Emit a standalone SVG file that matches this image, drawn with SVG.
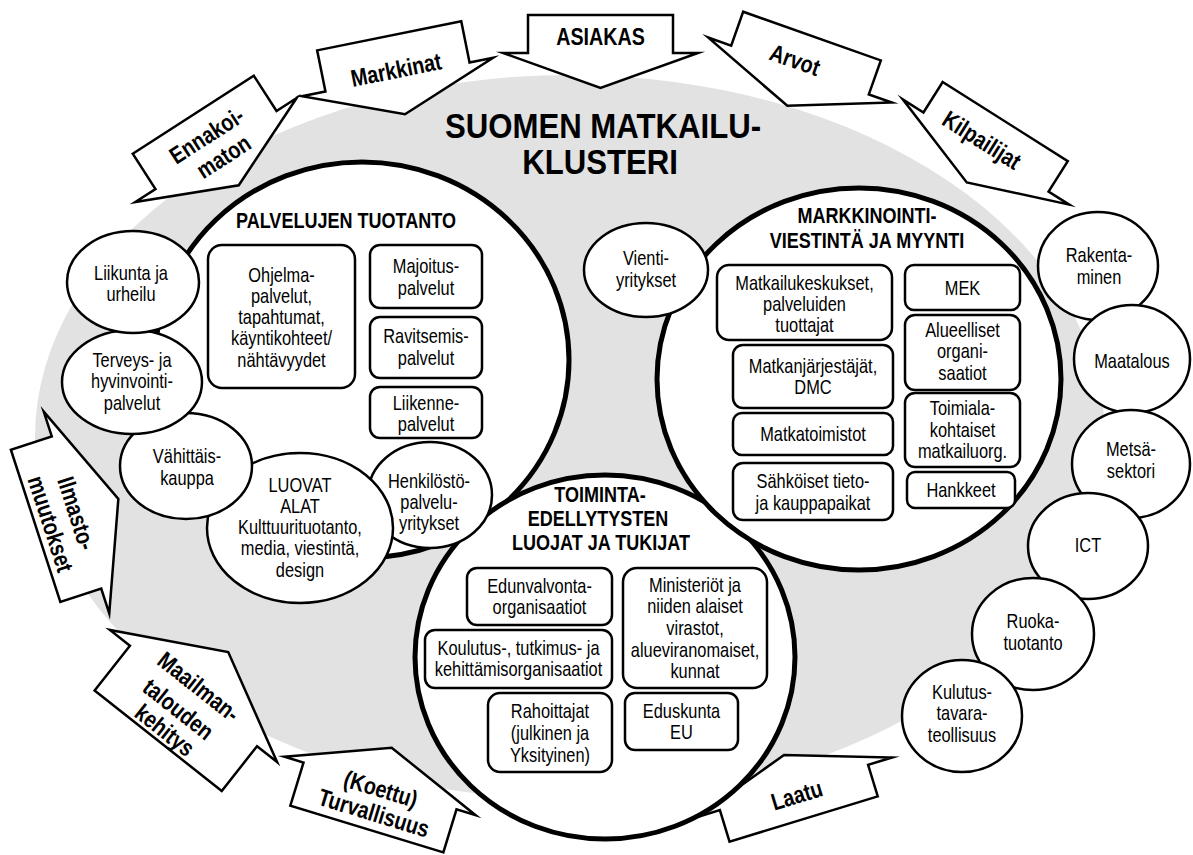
<svg xmlns="http://www.w3.org/2000/svg" width="1193" height="855" viewBox="0 0 1193 855">
<style>
.t{font-family:"Liberation Sans",Arial,sans-serif;font-size:20px;text-anchor:middle;fill:#000}
.h{font-weight:bold;font-size:22px}
.a{font-weight:bold;font-size:24px}
.ti{font-weight:bold;font-size:35px}
.big{fill:#fff;stroke:#000;stroke-width:5}
.sm{fill:#fff;stroke:#000;stroke-width:2.5}
.box{fill:#fff;stroke:#000;stroke-width:2.5}
.arr{fill:#fff;stroke:#000;stroke-width:2.5;stroke-linejoin:miter;stroke-miterlimit:12}
</style>
<rect width="1193" height="855" fill="#fff"/>
<ellipse id="cluster-bg" cx="570" cy="437" rx="535" ry="362" fill="#e2e2e2"/>

<g id="arrows">
<g id="arrow-asiakas" transform="translate(600.5,53)">
<polygon class="arr" points="-72.5,-38 72.5,-38 72.5,0 97.5,0 0,35 -97.5,0 -72.5,0"/>
<g transform="scale(0.82,1)"><text class="t a" x="0" y="-8">ASIAKAS</text></g></g>
<g id="arrow-markkinat" transform="translate(397.5,77) rotate(-11.4)">
<polygon class="arr" points="-73.5,-42 73.5,-42 73.5,0 97.5,0 0,38 -97.5,0 -73.5,0"/>
<g transform="scale(0.82,1)"><text class="t a" x="0" y="1">Markkinat</text></g></g>
<g id="arrow-ennakoimaton" transform="translate(216,150) rotate(-32.8)">
<polygon class="arr" points="-72,-42 72,-42 72,0 96,0 0,42 -96,0 -72,0"/>
<g transform="scale(0.82,1)"><text class="t a" x="0" y="-9">Ennakoi-</text>
<text class="t a" x="3.5" y="18">maton</text></g></g>
<g id="arrow-arvot" transform="translate(800,70) rotate(19.5)">
<polygon class="arr" points="-73,-36 73,-36 73,0 97.5,0 0,38 -97.5,0 -73,0"/>
<g transform="scale(0.82,1)"><text class="t a" x="-10" y="0.5">Arvot</text></g></g>
<g id="arrow-kilpailijat" transform="translate(986,152) rotate(32.3)">
<polygon class="arr" points="-74,-36 74,-36 74,0 98.5,0 0,36 -98.5,0 -74,0"/>
<g transform="scale(0.82,1)"><text class="t a" x="-12" y="0.5">Kilpailijat</text></g></g>
<g id="arrow-ilmasto" transform="translate(76.5,512.5) rotate(-108)">
<polygon class="arr" points="-80,-43 80,-43 80,0 106,0 0,44 -106,0 -80,0"/>
<g transform="rotate(180) scale(0.82,1)">
<text class="t a" x="1" y="8.5">Ilmasto-</text>
<text class="t a" x="3.5" y="36.5">muutokset</text></g></g>
<g id="arrow-maailmantalous" transform="translate(193.5,696) rotate(-141.7)">
<polygon class="arr" points="-81,-57 81,-57 81,0 106.5,0 0,56 -106.5,0 -81,0"/>
<g transform="rotate(180) scale(0.82,1)">
<text class="t a" x="-2" y="-2.2">Maailman-</text>
<text class="t a" x="-4.5" y="28">talouden</text>
<text class="t a" x="-1.5" y="53">kehitys</text></g></g>
<g id="arrow-turvallisuus" transform="translate(380,786) rotate(-163)">
<polygon class="arr" points="-80,-45 80,-45 80,0 100,0 0,40 -100,0 -80,0"/>
<g transform="rotate(180) scale(0.82,1)">
<text class="t a" x="2" y="11">(Koettu)</text>
<text class="t a" x="2.5" y="36">Turvallisuus</text></g></g>
<g id="arrow-laatu" transform="translate(794,787.5) rotate(163)">
<polygon class="arr" points="-77.5,-33 77.5,-33 77.5,0 102.5,0 0,34 -102.5,0 -77.5,0"/>
<g transform="rotate(180) scale(0.82,1)">
<text class="t a" x="0.5" y="16.5">Laatu</text></g></g>
</g>

<g id="title" transform="translate(601.5,0) scale(0.89,1)">
<text class="t ti" x="1.7" y="138">SUOMEN MATKAILU-</text>
<text class="t ti" x="-1.7" y="174">KLUSTERI</text>
</g>

<g id="palvelujen-tuotanto">
<ellipse class="big" cx="362" cy="360" rx="207" ry="198"/>
</g>
<g id="toimintaedellytykset">
<ellipse class="big" cx="605" cy="657" rx="190" ry="182"/>
</g>
<g id="markkinointi">
<ellipse class="big" cx="859" cy="379" rx="202" ry="191"/>
</g>

<g id="henkilosto"><ellipse class="sm" cx="430" cy="495" rx="62" ry="53"/>
<g transform="translate(429,0) scale(0.82,1)"><text class="t" x="0" y="488">Henkilöstö-</text><text class="t" x="0" y="509">palvelu-</text><text class="t" x="0" y="530">yritykset</text></g></g>
<g id="luovat-alat"><ellipse class="sm" cx="300" cy="528" rx="93" ry="75"/>
<g transform="translate(300,0) scale(0.82,1)"><text class="t" x="0" y="492">LUOVAT</text><text class="t" x="0" y="513">ALAT</text><text class="t" x="0" y="534">Kulttuurituotanto,</text><text class="t" x="0" y="555">media, viestintä,</text><text class="t" x="0" y="577">design</text></g></g>
<g id="vahittaiskauppa"><ellipse class="sm" cx="186" cy="466" rx="66" ry="53"/>
<g transform="translate(187,0) scale(0.82,1)"><text class="t" x="0" y="463">Vähittäis-</text><text class="t" x="0" y="485">kauppa</text></g></g>
<g id="terveys"><ellipse class="sm" cx="132" cy="382" rx="70" ry="52"/>
<g transform="translate(132,0) scale(0.82,1)"><text class="t" x="0" y="367">Terveys- ja</text><text class="t" x="0" y="388">hyvinvointi-</text><text class="t" x="0" y="410">palvelut</text></g></g>
<g id="liikunta"><ellipse class="sm" cx="133" cy="282" rx="66" ry="51"/>
<g transform="translate(131,0) scale(0.82,1)"><text class="t" x="0" y="280">Liikunta ja</text><text class="t" x="0" y="301">urheilu</text></g></g>
<g id="vientiyritykset"><ellipse class="sm" cx="646" cy="270" rx="62" ry="47"/>
<g transform="translate(646,0) scale(0.82,1)"><text class="t" x="0" y="265">Vienti-</text><text class="t" x="0" y="287">yritykset</text></g></g>

<g id="rakentaminen"><ellipse class="sm" cx="1098" cy="266" rx="60" ry="54"/>
<g transform="translate(1099,0) scale(0.82,1)"><text class="t" x="0" y="262">Rakenta-</text><text class="t" x="0" y="284">minen</text></g></g>
<g id="maatalous"><ellipse class="sm" cx="1132" cy="359" rx="58" ry="54"/>
<g transform="translate(1132,0) scale(0.82,1)"><text class="t" x="0" y="368">Maatalous</text></g></g>
<g id="metsasektori"><ellipse class="sm" cx="1131" cy="464" rx="59" ry="54"/>
<g transform="translate(1131,0) scale(0.82,1)"><text class="t" x="0" y="456">Metsä-</text><text class="t" x="0" y="478">sektori</text></g></g>
<g id="ict"><ellipse class="sm" cx="1088" cy="546" rx="60" ry="53"/>
<g transform="translate(1088,0) scale(0.82,1)"><text class="t" x="0" y="552">ICT</text></g></g>
<g id="ruokatuotanto"><ellipse class="sm" cx="1033" cy="634" rx="61" ry="56"/>
<g transform="translate(1033,0) scale(0.82,1)"><text class="t" x="0" y="628">Ruoka-</text><text class="t" x="0" y="650">tuotanto</text></g></g>
<g id="kulutustavara"><ellipse class="sm" cx="962" cy="716" rx="60" ry="56"/>
<g transform="translate(962,0) scale(0.82,1)"><text class="t" x="0" y="699">Kulutus-</text><text class="t" x="0" y="720">tavara-</text><text class="t" x="0" y="742">teollisuus</text></g></g>

<g id="palvelujen-heading" transform="translate(346,0) scale(0.82,1)"><text class="t h" x="0" y="228">PALVELUJEN TUOTANTO</text></g>
<g id="ohjelmapalvelut"><rect class="box" x="208" y="245" width="147" height="143" rx="14"/>
<g transform="translate(281.5,0) scale(0.82,1)"><text class="t" x="0" y="282">Ohjelma-</text><text class="t" x="0" y="303">palvelut,</text><text class="t" x="0" y="324">tapahtumat,</text><text class="t" x="0" y="345">käyntikohteet/</text><text class="t" x="0" y="367">nähtävyydet</text></g></g>
<g id="majoitus"><rect class="box" x="370" y="245" width="112" height="63" rx="10"/>
<g transform="translate(426,0) scale(0.82,1)"><text class="t" x="0" y="273">Majoitus-</text><text class="t" x="0" y="295">palvelut</text></g></g>
<g id="ravitsemis"><rect class="box" x="370" y="317" width="112" height="61" rx="10"/>
<g transform="translate(426,0) scale(0.82,1)"><text class="t" x="0" y="343">Ravitsemis-</text><text class="t" x="0" y="365">palvelut</text></g></g>
<g id="liikenne"><rect class="box" x="370" y="387" width="112" height="51" rx="10"/>
<g transform="translate(426,0) scale(0.82,1)"><text class="t" x="0" y="410">Liikenne-</text><text class="t" x="0" y="431">palvelut</text></g></g>

<g id="markkinointi-heading" transform="translate(867,0) scale(0.82,1)"><text class="t h" x="0" y="223">MARKKINOINTI-</text><text class="t h" x="0" y="248">VIESTINTÄ JA MYYNTI</text></g>
<g id="matkailukeskukset"><rect class="box" x="717" y="265" width="175" height="75" rx="12"/>
<g transform="translate(804.5,0) scale(0.82,1)"><text class="t" x="0" y="290">Matkailukeskukset,</text><text class="t" x="0" y="311">palveluiden</text><text class="t" x="0" y="332">tuottajat</text></g></g>
<g id="matkanjarjestajat"><rect class="box" x="733" y="345" width="160" height="63" rx="10"/>
<g transform="translate(813,0) scale(0.82,1)"><text class="t" x="0" y="373">Matkanjärjestäjät,</text><text class="t" x="0" y="394">DMC</text></g></g>
<g id="matkatoimistot"><rect class="box" x="733" y="413" width="160" height="42" rx="9"/>
<g transform="translate(813,0) scale(0.82,1)"><text class="t" x="0" y="441">Matkatoimistot</text></g></g>
<g id="sahkoiset"><rect class="box" x="733" y="463" width="160" height="57" rx="10"/>
<g transform="translate(813,0) scale(0.82,1)"><text class="t" x="0" y="488">Sähköiset tieto-</text><text class="t" x="0" y="510">ja kauppapaikat</text></g></g>
<g id="mek"><rect class="box" x="905" y="265" width="115" height="45" rx="9"/>
<g transform="translate(962.5,0) scale(0.82,1)"><text class="t" x="0" y="295">MEK</text></g></g>
<g id="alueelliset"><rect class="box" x="905" y="315" width="115" height="75" rx="10"/>
<g transform="translate(962.5,0) scale(0.82,1)"><text class="t" x="0" y="337">Alueelliset</text><text class="t" x="0" y="358">organi-</text><text class="t" x="0" y="380">saatiot</text></g></g>
<g id="toimialakohtaiset"><rect class="box" x="905" y="393" width="115" height="74" rx="10"/>
<g transform="translate(962.5,0) scale(0.82,1)"><text class="t" x="0" y="415">Toimiala-</text><text class="t" x="0" y="437">kohtaiset</text><text class="t" x="0" y="458">matkailuorg.</text></g></g>
<g id="hankkeet"><rect class="box" x="907" y="472" width="108" height="36" rx="8"/>
<g transform="translate(961,0) scale(0.82,1)"><text class="t" x="0" y="497">Hankkeet</text></g></g>

<g id="toiminta-heading" transform="translate(600,0) scale(0.82,1)"><text class="t h" x="0" y="502">TOIMINTA-</text><text class="t h" x="-2.4" y="526">EDELLYTYSTEN</text><text class="t h" x="1.2" y="550">LUOJAT JA TUKIJAT</text></g>
<g id="edunvalvonta"><rect class="box" x="467" y="568" width="145" height="57" rx="10"/>
<g transform="translate(539.5,0) scale(0.82,1)"><text class="t" x="0" y="593">Edunvalvonta-</text><text class="t" x="0" y="614">organisaatiot</text></g></g>
<g id="koulutus"><rect class="box" x="425" y="630" width="187" height="58" rx="10"/>
<g transform="translate(518.5,0) scale(0.82,1)"><text class="t" x="0" y="655">Koulutus-, tutkimus- ja</text><text class="t" x="0" y="676">kehittämisorganisaatiot</text></g></g>
<g id="rahoittajat"><rect class="box" x="488" y="693" width="124" height="79" rx="12"/>
<g transform="translate(550,0) scale(0.82,1)"><text class="t" x="0" y="718">Rahoittajat</text><text class="t" x="0" y="740">(julkinen ja</text><text class="t" x="0" y="762">Yksityinen)</text></g></g>
<g id="ministeriot"><rect class="box" x="623" y="568" width="144" height="120" rx="14"/>
<g transform="translate(695,0) scale(0.82,1)"><text class="t" x="0" y="592">Ministeriöt ja</text><text class="t" x="0" y="613">niiden alaiset</text><text class="t" x="0" y="635">virastot,</text><text class="t" x="0" y="657">alueviranomaiset,</text><text class="t" x="0" y="678">kunnat</text></g></g>
<g id="eduskunta"><rect class="box" x="625" y="693" width="113" height="57" rx="10"/>
<g transform="translate(681.5,0) scale(0.82,1)"><text class="t" x="0" y="718">Eduskunta</text><text class="t" x="0" y="739">EU</text></g></g>

<g id="connectors"></g>
</svg>
